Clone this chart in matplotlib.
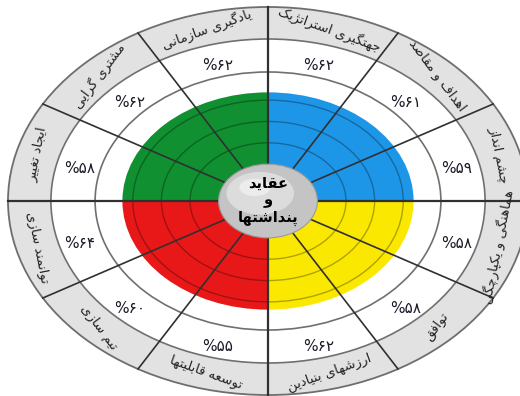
import numpy as np
import matplotlib
matplotlib.use("Agg")
from matplotlib import pyplot as plt
from matplotlib.patches import Ellipse, Wedge, Circle

# sectors clockwise from the top-right one (centre angle in degrees)
sector_angles = [75, 45, 15, -15, -45, -75, -105, -135, -165, 165, 135, 105]
sector_labels = ["جهتگیری استراتژیک", "اهداف و مقاصد", "چشم انداز",
                 "هماهنگی و یکپارچگی", "توافق", "ارزشهای بنیادین",
                 "توسعه قابلیتها", "تیم سازی", "توانمند سازی",
                 "ایجاد تغییر", "مشتری گرایی", "یادگیری سازمانی"]
sector_values = [62, 61, 59, 58, 58, 62, 55, 60, 64, 58, 62, 62]
center_lines = ["عقاید", "و", "پنداشتها"]
quadrant_colors = ["#1e96e8", "#109030", "#e81818", "#fbe800"]  # from 0deg ccw

# isolated, final, initial, medial presentation forms
FORMS = {
    "ا": (0xFE8D, 0xFE8E), "آ": (0xFE81, 0xFE82),
    "ب": (0xFE8F, 0xFE90, 0xFE91, 0xFE92), "پ": (0xFB56, 0xFB57, 0xFB58, 0xFB59),
    "ت": (0xFE95, 0xFE96, 0xFE97, 0xFE98), "ج": (0xFE9D, 0xFE9E, 0xFE9F, 0xFEA0),
    "چ": (0xFB7A, 0xFB7B, 0xFB7C, 0xFB7D), "د": (0xFEA9, 0xFEAA),
    "ر": (0xFEAD, 0xFEAE), "ز": (0xFEAF, 0xFEB0), "ژ": (0xFB8A, 0xFB8B),
    "س": (0xFEB1, 0xFEB2, 0xFEB3, 0xFEB4), "ش": (0xFEB5, 0xFEB6, 0xFEB7, 0xFEB8),
    "ص": (0xFEB9, 0xFEBA, 0xFEBB, 0xFEBC), "ع": (0xFEC9, 0xFECA, 0xFECB, 0xFECC),
    "غ": (0xFECD, 0xFECE, 0xFECF, 0xFED0), "ف": (0xFED1, 0xFED2, 0xFED3, 0xFED4),
    "ق": (0xFED5, 0xFED6, 0xFED7, 0xFED8), "ک": (0xFB8E, 0xFB8F, 0xFB90, 0xFB91),
    "گ": (0xFB92, 0xFB93, 0xFB94, 0xFB95), "ل": (0xFEDD, 0xFEDE, 0xFEDF, 0xFEE0),
    "م": (0xFEE1, 0xFEE2, 0xFEE3, 0xFEE4), "ن": (0xFEE5, 0xFEE6, 0xFEE7, 0xFEE8),
    "و": (0xFEED, 0xFEEE), "ه": (0xFEE9, 0xFEEA, 0xFEEB, 0xFEEC),
    "ی": (0xFBFC, 0xFBFD, 0xFBFE, 0xFBFF),
}
FA_DIGITS = "۰۱۲۳۴۵۶۷۸۹"


def shape(s):
    # join the letters and turn the string round, since matplotlib draws left to right
    out = []
    for i, ch in enumerate(s):
        if ch not in FORMS:
            out.append(ch)
            continue
        f = FORMS[ch]
        prev = s[i - 1] if i > 0 else ""
        nxt = s[i + 1] if i + 1 < len(s) else ""
        pj = prev in FORMS and len(FORMS[prev]) == 4
        nj = nxt in FORMS and len(f) == 4
        if pj and nj:
            out.append(chr(f[3]))
        elif pj:
            out.append(chr(f[1]))
        elif nj:
            out.append(chr(f[2]))
        else:
            out.append(chr(f[0]))
    return "".join(reversed(out))


def fa_percent(v):
    return "%" + "".join(FA_DIGITS[int(d)] for d in str(v))


plt.rcParams["font.family"] = ["DejaVu Sans"]
fig = plt.figure(figsize=(5.2, 3.96), dpi=100)
ax = fig.add_axes([0, 0, 1, 1])
ax.set_xlim(-268 / 260, 252 / 260)
ax.set_ylim(-195 / 194, 201 / 194)
ax.axis("off")
sx, sy = 260, 194

r_out, r_gray, r_mid, r_col = 1.0, 0.835, 0.665, 0.56

ax.add_patch(Circle((0, 0), r_out, fc="#e2e2e2", ec="#6e6e6e", lw=1.3, zorder=1))
ax.add_patch(Circle((0, 0), r_gray, fc="white", ec="#707070", lw=1.2, zorder=2))
ax.add_patch(Circle((0, 0), r_mid, fc="none", ec="#707070", lw=1.2, zorder=2))

for k, c in enumerate(quadrant_colors):
    ax.add_patch(Wedge((0, 0), r_col, 90 * k, 90 * (k + 1), fc=c, ec="none", zorder=3))
for r in [0.30, 0.41, 0.52]:
    ax.add_patch(Circle((0, 0), r, fc="none", ec="#000000", alpha=0.3, lw=1.0, zorder=4))

for a in range(0, 360, 30):
    t = np.radians(a)
    lw = 1.6 if a % 90 == 0 else 1.2
    ax.plot([0, np.cos(t)], [0, np.sin(t)], color="#303030", lw=lw, zorder=5)

# centre disc
ax.add_patch(Circle((0, 0), 0.19, fc="#c4c4c4", ec="#9a9a9a", lw=0.8, zorder=6))
ax.add_patch(Ellipse((-0.03, 0.04), 0.26, 0.22, fc="#dcdcdc", ec="none", zorder=6))
ax.add_patch(Ellipse((-0.05, 0.07), 0.12, 0.09, fc="#ececec", ec="none", zorder=6))
for i, line in enumerate(center_lines):
    ax.text(0, 0.09 - 0.09 * i, shape(line), ha="center", va="center",
            fontsize=10.5, fontweight="bold", color="black", zorder=7)

r_lab = (r_out + r_gray) / 2
r_val = (r_gray + r_mid) / 2
for a, lab, v in zip(sector_angles, sector_labels, sector_values):
    t = np.radians(a)
    phi = np.degrees(np.arctan2(sy * np.sin(t), sx * np.cos(t)))
    rot = phi - 90 if a > 0 else phi + 90
    ax.text(r_lab * np.cos(t), r_lab * np.sin(t), shape(lab), rotation=rot,
            rotation_mode="anchor", ha="center", va="center", fontsize=9.5,
            color="#222222", zorder=7)
    ax.text(r_val * np.cos(t), r_val * np.sin(t) - 0.025, fa_percent(v),
            ha="center", va="center", fontsize=11, color="#1a1a28", zorder=7)

fig.savefig("out.png", dpi=100)
